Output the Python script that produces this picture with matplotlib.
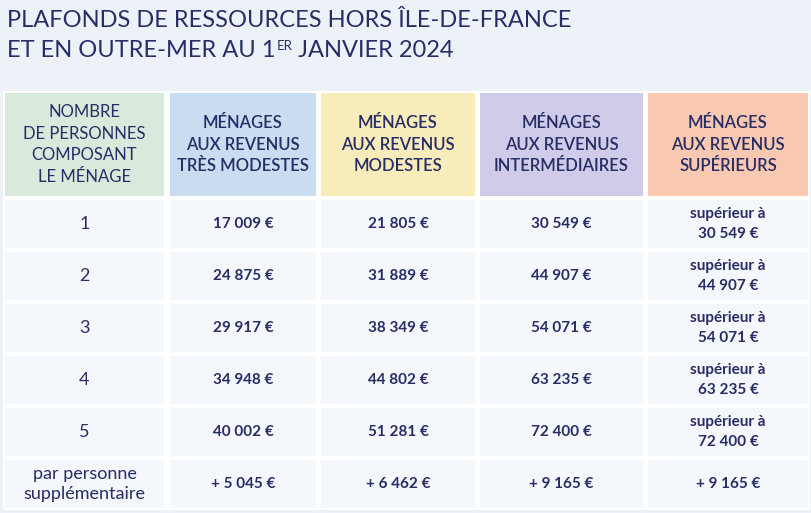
import matplotlib
matplotlib.use("Agg")
import matplotlib.pyplot as plt
from matplotlib.patches import Rectangle

plt.rcParams["font.family"] = ["Lato", "DejaVu Sans"]

title_line1 = "PLAFONDS DE RESSOURCES HORS ÎLE-DE-FRANCE"
title_line2 = ("ET EN OUTRE-MER AU 1", "ER", " JANVIER 2024")

headers = [
    "NOMBRE\nDE PERSONNES\nCOMPOSANT\nLE MÉNAGE",
    "MÉNAGES\nAUX REVENUS\nTRÈS MODESTES",
    "MÉNAGES\nAUX REVENUS\nMODESTES",
    "MÉNAGES\nAUX REVENUS\nINTERMÉDIAIRES",
    "MÉNAGES\nAUX REVENUS\nSUPÉRIEURS",
]
header_colors = ["#d9eadc", "#c8ddef", "#f8edba", "#cfcbe8", "#f8c8b0"]

persons = ["1", "2", "3", "4", "5", "par personne\nsupplémentaire"]
tres_modestes = ["17 009 €", "24 875 €", "29 917 €", "34 948 €", "40 002 €", "+ 5 045 €"]
modestes = ["21 805 €", "31 889 €", "38 349 €", "44 802 €", "51 281 €", "+ 6 462 €"]
intermediaires = ["30 549 €", "44 907 €", "54 071 €", "63 235 €", "72 400 €", "+ 9 165 €"]
superieurs = ["supérieur à\n30 549 €", "supérieur à\n44 907 €", "supérieur à\n54 071 €",
              "supérieur à\n63 235 €", "supérieur à\n72 400 €", "+ 9 165 €"]

navy = "#272d66"
bg = "#edf2f9"
cell_bg = "#f4f7fb"

W, H = 812, 513
fig = plt.figure(figsize=(W / 100, H / 100), dpi=100, facecolor=bg)
ax = fig.add_axes([0, 0, 1, 1])
ax.set_xlim(0, W)
ax.set_ylim(H, 0)
ax.axis("off")

# column edges (px) and row layout
col_edges = [(5, 164), (170, 316), (321, 475), (480, 643), (648, 808)]
head_top, head_bot = 93, 196
row_top0, row_h, row_pitch = 200, 48, 52

# white backing under the table gives the gutters
ax.add_patch(Rectangle((3, 91), 807, 419, facecolor="white", edgecolor="none"))

# title
tsize = 17
ax.text(7, 27, title_line1, fontsize=tsize, color=navy, va="baseline", ha="left")
t1 = ax.text(7, 57, title_line2[0], fontsize=tsize, color=navy, va="baseline", ha="left")
fig.canvas.draw()
r = fig.canvas.get_renderer()
bb = t1.get_window_extent(r)
t2 = ax.text(bb.x1 + 1, 50, title_line2[1], fontsize=9.5, color=navy, va="baseline", ha="left")
bb2 = t2.get_window_extent(r)
ax.text(bb2.x1, 57, title_line2[2], fontsize=tsize, color=navy, va="baseline", ha="left")

# header row
for j, (x0, x1) in enumerate(col_edges):
    ax.add_patch(Rectangle((x0, head_top), x1 - x0, head_bot - head_top,
                           facecolor=header_colors[j], edgecolor="none"))
    weight = "normal" if j == 0 else "semibold"
    ax.text((x0 + x1) / 2, (head_top + head_bot) / 2, headers[j], fontsize=12,
            color=navy, ha="center", va="center", weight=weight, linespacing=1.42)

columns = [persons, tres_modestes, modestes, intermediaires, superieurs]
for i in range(len(persons)):
    top = row_top0 + i * row_pitch
    for j, (x0, x1) in enumerate(col_edges):
        ax.add_patch(Rectangle((x0, top), x1 - x0, row_h, facecolor=cell_bg, edgecolor="none"))
        weight = "normal" if j == 0 else "bold"
        fs = 13 if j == 0 else 11
        ls = 1.3 if j == 0 else 1.5
        ax.text((x0 + x1) / 2, top + row_h / 2, columns[j][i], fontsize=fs,
                color=navy, ha="center", va="center", weight=weight, linespacing=ls)

fig.savefig("out.png", dpi=100, facecolor=bg)
